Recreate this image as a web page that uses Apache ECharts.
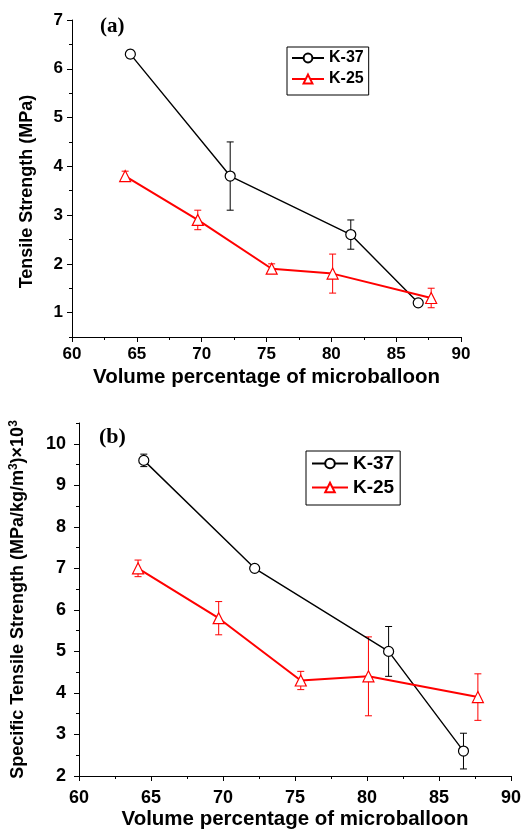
<!DOCTYPE html>
<html>
<head>
<meta charset="utf-8">
<script src="https://cdn.jsdelivr.net/npm/echarts@6/dist/echarts.min.js"></script>
<style>
html,body{margin:0;padding:0;background:#fff;}
#chart{width:525px;height:831px;}
</style>
</head>
<body>
<div id="chart"></div>
<script>
// ---- data ----
const seriesNames = ['K-37', 'K-25'];
const volK37 = [64.5, 72.2, 81.5, 86.7];
const volK25 = [64.1, 69.7, 75.4, 80.1, 87.7];
// (a) tensile strength (MPa)
const tsK37 = [6.3, 3.8, 2.6, 1.2];
const tsErrK37 = [0.08, 0.7, 0.3, 0.05];
const tsK25 = [3.8, 2.9, 1.9, 1.8, 1.3];
const tsErrK25 = [0.1, 0.2, 0.1, 0.4, 0.2];
// (b) specific tensile strength
const stsK37 = [9.6, 7.0, 5.0, 2.6];
const stsErrK37 = [0.15, 0.08, 0.6, 0.43];
const stsK25 = [7.0, 5.8, 4.3, 4.4, 3.9];
const stsErrK25 = [0.2, 0.4, 0.22, 0.95, 0.56];
// tick labels
const yTicksA = [1, 2, 3, 4, 5, 6, 7];
const yMinorA = [0.5, 1.5, 2.5, 3.5, 4.5, 5.5, 6.5];
const yTicksB = [2, 3, 4, 5, 6, 7, 8, 9, 10];
const yMinorB = [2.5, 3.5, 4.5, 5.5, 6.5, 7.5, 8.5, 9.5, 10.5];
const xTicks = [60, 65, 70, 75, 80, 85, 90];

const FONT = 'Liberation Sans, Arial, sans-serif';

function pts(xs, ys) { return xs.map((x, i) => [x, ys[i]]); }
function errs(xs, ys, es) { return xs.map((x, i) => [x, ys[i] - es[i], ys[i] + es[i]]); }

function errRender(color) {
  return function (params, api) {
    const x = api.value(0), lo = api.value(1), hi = api.value(2);
    const a = api.coord([x, lo]), b = api.coord([x, hi]);
    const hw = 3.5;
    const style = { stroke: color, lineWidth: 1, fill: null };
    return {
      type: 'group',
      children: [
        { type: 'line', shape: { x1: a[0], y1: a[1], x2: b[0], y2: b[1] }, style: style },
        { type: 'line', shape: { x1: a[0] - hw, y1: a[1], x2: a[0] + hw, y2: a[1] }, style: style },
        { type: 'line', shape: { x1: b[0] - hw, y1: b[1], x2: b[0] + hw, y2: b[1] }, style: style }
      ]
    };
  };
}

const axisLine = { show: true, lineStyle: { color: '#000', width: 1 } };

function xAxisDef(gi, labelSize, margin, nameSize, nameGap) {
  return {
    type: 'value', gridIndex: gi, min: 60, max: 90, interval: 5,
    axisLine: axisLine,
    axisTick: { show: true, length: 5, lineStyle: { color: '#000' } },
    minorTick: { show: true, splitNumber: 2, length: 3, lineStyle: { color: '#000' } },
    splitLine: { show: false },
    axisLabel: { color: '#000', fontFamily: FONT, fontWeight: 'bold', fontSize: labelSize, margin: margin, customValues: xTicks },
    name: 'Volume percentage of microballoon', nameLocation: 'middle', nameGap: nameGap,
    nameTextStyle: { color: '#000', fontFamily: FONT, fontWeight: 'bold', fontSize: nameSize }
  };
}

function yAxisMain(gi, min, max, ticks, labelSize, margin, name, nameSize, nameGap, namePad, rich) {
  return {
    type: 'value', gridIndex: gi, min: min, max: max, position: 'left',
    axisLine: axisLine,
    axisTick: { show: true, length: 5, customValues: ticks, lineStyle: { color: '#000' } },
    splitLine: { show: false },
    axisLabel: { color: '#000', fontFamily: FONT, fontWeight: 'bold', fontSize: labelSize, margin: margin, customValues: ticks },
    name: name, nameLocation: 'middle', nameGap: nameGap, nameRotate: 90,
    nameTextStyle: { color: '#000', fontFamily: FONT, fontWeight: 'bold', fontSize: nameSize, padding: namePad, rich: rich }
  };
}

function yAxisMinor(gi, min, max, ticks) {
  return {
    type: 'value', gridIndex: gi, min: min, max: max, position: 'left', offset: 0,
    axisLine: { show: false },
    axisTick: { show: true, length: 3, customValues: ticks, lineStyle: { color: '#000' } },
    axisLabel: { show: false },
    splitLine: { show: false }
  };
}

function lineK37(xi, yi, data) {
  return {
    name: 'K-37', type: 'line', xAxisIndex: xi, yAxisIndex: yi, data: data, z: 3,
    symbol: 'circle', symbolSize: 10,
    itemStyle: { color: '#fff', borderColor: '#000', borderWidth: 1.2 },
    lineStyle: { color: '#000', width: 1.4 }
  };
}
function lineK25(xi, yi, data) {
  return {
    name: 'K-25', type: 'line', xAxisIndex: xi, yAxisIndex: yi, data: data, z: 3,
    symbol: 'triangle', symbolSize: 11,
    itemStyle: { color: '#fff', borderColor: '#ff0000', borderWidth: 1.2 },
    lineStyle: { color: '#ff0000', width: 2 }
  };
}
function errSeries(xi, yi, data, color) {
  return {
    type: 'custom', xAxisIndex: xi, yAxisIndex: yi, data: data, z: 1,
    encode: { x: 0, y: [1, 2] }, renderItem: errRender(color), silent: true
  };
}

const richB = {
  t: { color: '#000', fontFamily: FONT, fontWeight: 'bold', fontSize: 18 },
  s: { color: '#000', fontFamily: FONT, fontWeight: 'bold', fontSize: 12, verticalAlign: 'top', padding: [0, 0, 8, 0] }
};

const chart = echarts.init(document.getElementById('chart'), null, { renderer: 'canvas' });
chart.setOption({
  animation: false,
  backgroundColor: '#fff',
  title: [
    { text: '(a)', left: 95, top: 11, textStyle: { fontFamily: 'Liberation Serif, Times New Roman, serif', fontWeight: 'bold', fontSize: 21, color: '#000' } },
    { text: '(b)', left: 94, top: 421, textStyle: { fontFamily: 'Liberation Serif, Times New Roman, serif', fontWeight: 'bold', fontSize: 22, color: '#000' } }
  ],
  legend: [
    {
      data: seriesNames, orient: 'vertical', align: 'left', left: 287, top: 47,
      itemWidth: 32, itemHeight: 11, itemGap: 5, padding: [3, 5, 8, 4],
      borderColor: '#000', borderWidth: 1,
      textStyle: { color: '#000', fontFamily: FONT, fontWeight: 'bold', fontSize: 16, lineHeight: 16 }
    },
    {
      data: seriesNames, orient: 'vertical', align: 'left', left: 306, top: 451,
      itemWidth: 36, itemHeight: 12, itemGap: 5, padding: [3, 6, 8, 5],
      borderColor: '#000', borderWidth: 1,
      textStyle: { color: '#000', fontFamily: FONT, fontWeight: 'bold', fontSize: 19, lineHeight: 19 }
    }
  ],
  grid: [
    { left: 72, top: 20, right: 64, bottom: 494, containLabel: false },
    { left: 77, top: 423, right: 14, bottom: 52, containLabel: false }
  ],
  xAxis: [
    xAxisDef(0, 17, 9, 20.5, 30),
    xAxisDef(1, 18, 13, 20.5, 33)
  ],
  yAxis: [
    yAxisMain(0, 0.5, 7, yTicksA, 17, 9, 'Tensile Strength (MPa)', 18, 36, [0, 26, 0, 0], undefined),
    yAxisMinor(0, 0.5, 7, yMinorA),
    yAxisMain(1, 2, 10.5, yTicksB, 18, 13, '{t|Specific Tensile Strength (MPa/kg/m}{s|3}{t|)×10}{s|3}', 18, 51, [0, 0, 0, 0], richB),
    yAxisMinor(1, 2, 10.5, yMinorB)
  ],
  series: [
    errSeries(0, 0, errs(volK37, tsK37, tsErrK37), '#000'),
    errSeries(0, 0, errs(volK25, tsK25, tsErrK25), '#ff0000'),
    lineK37(0, 0, pts(volK37, tsK37)),
    lineK25(0, 0, pts(volK25, tsK25)),
    errSeries(1, 2, errs(volK37, stsK37, stsErrK37), '#000'),
    errSeries(1, 2, errs(volK25, stsK25, stsErrK25), '#ff0000'),
    lineK37(1, 2, pts(volK37, stsK37)),
    lineK25(1, 2, pts(volK25, stsK25))
  ]
});
</script>
</body>
</html>
